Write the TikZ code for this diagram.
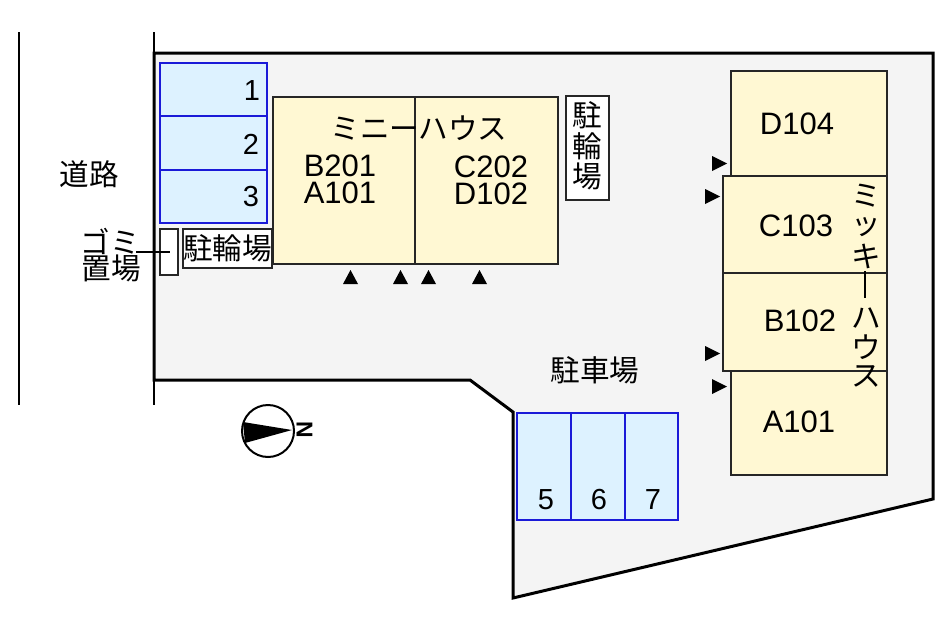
\documentclass[tikz,border=0pt]{standalone}
\usepackage{fontspec}
\setmainfont{Liberation Sans}
\newfontfamily\jpfont{Noto Sans CJK JP}
\definecolor{sitegray}{HTML}{F4F4F4}
\definecolor{bldgyellow}{HTML}{FFF8D3}
\definecolor{parkblue}{HTML}{DDF2FF}
\definecolor{parkline}{HTML}{1A1AD8}
\tikzset{
  site/.style={draw=black, line width=3pt, fill=sitegray, line join=miter},
  road/.style={draw=black, line width=2.2pt},
  bldg/.style={draw=black!85, line width=2.1pt, fill=bldgyellow},
  park/.style={draw=parkline, line width=2pt, fill=parkblue},
  whitebox/.style={draw=black!85, line width=1.9pt, fill=white},
  roomtxt/.style={inner sep=0pt, font=\fontsize{31}{31}\selectfont},
  numtxt/.style={inner sep=0pt, font=\fontsize{29}{29}\selectfont},
  jptxt/.style={inner sep=0pt, font=\fontsize{29.6}{29.6}\jpfont},
  door/.style={fill=black, draw=none},
}
\begin{document}
\begin{tikzpicture}[x=1pt,y=-1pt]
\useasboundingbox (0,0) rectangle (944,629);
% road
\draw [road] (19,32) -- (19,405);
\draw [road] (154,32) -- (154,405);
\node [jptxt] (roadtxt) at (89,174) {道路};
% site
\draw [site] (154,53) -- (933,53) -- (933,499) -- (513,598) -- (513,412) -- (470,380) -- (154,380) -- cycle;
% parking 1-3
\draw [park] (160,63) rectangle (267,116);
\draw [park] (160,116) rectangle (267,170);
\draw [park] (160,170) rectangle (267,223);
\node [numtxt] (p1) at (252,91) {1};
\node [numtxt] (p2) at (251,144) {2};
\node [numtxt] (p3) at (251,197) {3};
% parking 5-7
\draw [park] (517,413) rectangle (571,520);
\draw [park] (571,413) rectangle (625,520);
\draw [park] (625,413) rectangle (678,520);
\node [numtxt] (p5) at (546,500) {5};
\node [numtxt] (p6) at (599,500) {6};
\node [numtxt] (p7) at (653,500) {7};
\node [jptxt] (parktxt) at (595,370) {駐車場};
% mini house
\draw [bldg] (273,97) rectangle (415,264);
\draw [bldg] (415,97) rectangle (558,264);
\node [jptxt] (minitxt) at (419,128) {ミニーハウス};
\node [roomtxt] (b201) at (340,166) {B201};
\node [roomtxt] (a101m) at (340,193) {A101};
\node [roomtxt] (c202) at (491,167) {C202};
\node [roomtxt] (d102) at (491,194) {D102};
\fill [door] (343,284) -- (350.5,270) -- (358,284) -- cycle;
\fill [door] (393,284) -- (400.5,270) -- (408,284) -- cycle;
\fill [door] (421,284) -- (428.5,270) -- (436,284) -- cycle;
\fill [door] (472,284) -- (479.5,270) -- (487,284) -- cycle;
% bikes
\draw [whitebox] (183,229) rectangle (272,268);
\node [jptxt] (bike1) at (227.5,248) {駐輪場};
\draw [whitebox] (566,96) rectangle (609,200);
\node [jptxt] (bike2a) at (587.5,115) {駐};
\node [jptxt] (bike2b) at (587.5,146) {輪};
\node [jptxt] (bike2c) at (587.5,176) {場};
% garbage
\draw [whitebox] (160,229) rectangle (178,275);
\node [jptxt] (gomi1) at (110,241) {ゴミ};
\node [jptxt] (gomi2) at (111,268) {置場};
\coordinate (gomifrom) at (136,252);
\coordinate (gomito) at (170,252);
\draw [line width=1.4pt] (gomifrom) -- (gomito);
% mickey house
\draw [bldg] (731,71) rectangle (887,176);
\draw [bldg] (731,371) rectangle (887,475);
\draw [bldg] (723,176) rectangle (887,273);
\draw [bldg] (723,273) rectangle (887,371);
\node [roomtxt] (d104) at (797,124) {D104};
\node [roomtxt] (c103) at (796,226) {C103};
\node [roomtxt] (b102) at (800,321) {B102};
\node [roomtxt] (a101) at (799,422) {A101};
\node [jptxt] (mk1) at (866,196) {ミ};
\node [jptxt] (mk2) at (866,227) {ッ};
\node [jptxt] (mk3) at (866,256) {キ};
\draw [line width=2pt] (865,271) -- (865,298);
\node [jptxt] (mk4) at (866,318) {ハ};
\node [jptxt] (mk5) at (866,347) {ウ};
\node [jptxt] (mk6) at (866,376) {ス};
\fill [door] (712,156) -- (727,163.5) -- (712,171) -- cycle;
\fill [door] (705,189) -- (720,196.5) -- (705,204) -- cycle;
\fill [door] (705,346) -- (720,353.5) -- (705,361) -- cycle;
\fill [door] (712,379) -- (727,386.5) -- (712,394) -- cycle;
% north mark
\draw [line width=2pt] (268,431) circle (26);
\fill [door] (243,422) -- (292,430) -- (245,443) -- cycle;
\node [inner sep=0pt, rotate=-90, font=\fontsize{23}{23}\selectfont\bfseries] (north) at (304.5,430) {N};
\end{tikzpicture}
\end{document}
